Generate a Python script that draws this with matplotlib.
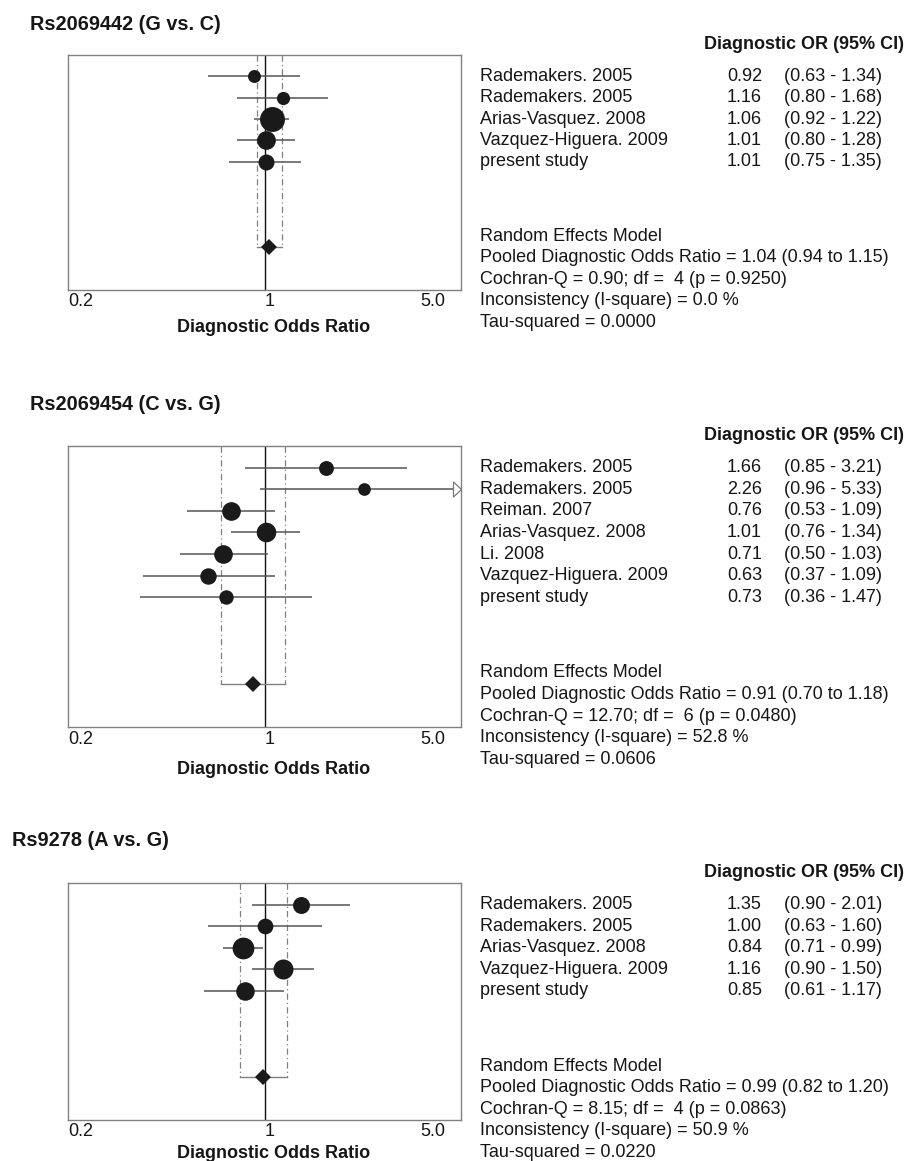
import numpy as np
import matplotlib
matplotlib.use("Agg")
import matplotlib.pyplot as plt
from matplotlib.path import Path
from matplotlib.ticker import NullLocator
from matplotlib.transforms import blended_transform_factory

plt.rcParams['font.family'] = ['Liberation Sans', 'DejaVu Sans']

# ---------------- data ----------------
title_1 = "Rs2069442 (G vs. C)"
studies_1 = ["Rademakers. 2005", "Rademakers. 2005", "Arias-Vasquez. 2008",
             "Vazquez-Higuera. 2009", "present study"]
or_1 = [0.92, 1.16, 1.06, 1.01, 1.01]
lo_1 = [0.63, 0.80, 0.92, 0.80, 0.75]
hi_1 = [1.34, 1.68, 1.22, 1.28, 1.35]
pooled_1 = [1.04, 0.94, 1.15]
q_1, df_1, p_1, isq_1, tau2_1 = 0.90, 4, 0.9250, 0.0, 0.0000

title_2 = "Rs2069454 (C vs. G)"
studies_2 = ["Rademakers. 2005", "Rademakers. 2005", "Reiman. 2007",
             "Arias-Vasquez. 2008", "Li. 2008", "Vazquez-Higuera. 2009",
             "present study"]
or_2 = [1.66, 2.26, 0.76, 1.01, 0.71, 0.63, 0.73]
lo_2 = [0.85, 0.96, 0.53, 0.76, 0.50, 0.37, 0.36]
hi_2 = [3.21, 5.33, 1.09, 1.34, 1.03, 1.09, 1.47]
pooled_2 = [0.91, 0.70, 1.18]
q_2, df_2, p_2, isq_2, tau2_2 = 12.70, 6, 0.0480, 52.8, 0.0606

title_3 = "Rs9278 (A vs. G)"
studies_3 = ["Rademakers. 2005", "Rademakers. 2005", "Arias-Vasquez. 2008",
             "Vazquez-Higuera. 2009", "present study"]
or_3 = [1.35, 1.00, 0.84, 1.16, 0.85]
lo_3 = [0.90, 0.63, 0.71, 0.90, 0.61]
hi_3 = [2.01, 1.60, 0.99, 1.50, 1.17]
pooled_3 = [0.99, 0.82, 1.20]
q_3, df_3, p_3, isq_3, tau2_3 = 8.15, 4, 0.0863, 50.9, 0.0220

x_ticks = [0.2, 1, 5.0]
x_tick_labels = ["0.2", "1", "5.0"]

# ---------------- layout (pixels) ----------------
W, H = 914, 1161
AX_L, AX_R = 68, 461
layout = [
    dict(top=55, bottom=290, tx=30, ty=25, ly=327),
    dict(top=446, bottom=727, tx=30, ty=405, ly=770),
    dict(top=883, bottom=1120, tx=12, ty=840, ly=1153),
]
panels = [
    (title_1, studies_1, or_1, lo_1, hi_1, pooled_1, q_1, df_1, p_1, isq_1, tau2_1),
    (title_2, studies_2, or_2, lo_2, hi_2, pooled_2, q_2, df_2, p_2, isq_2, tau2_2),
    (title_3, studies_3, or_3, lo_3, hi_3, pooled_3, q_3, df_3, p_3, isq_3, tau2_3),
]

TXT = '#161616'
DOT = '#1a1a1a'
CI_COL = '#555555'
BOX = '#808080'
DASH = '#808080'
FS = 13.0

fig = plt.figure(figsize=(W / 100, H / 100), dpi=100)
fig.patch.set_facecolor('white')

arrow_path = Path([(-1.0, -0.94), (0.0, 0.0), (-1.0, 0.94), (-1.0, -0.94)],
                  [Path.MOVETO, Path.LINETO, Path.LINETO, Path.CLOSEPOLY])

for (title, studies, ors, los, his, pooled, q, dfree, pval, isq, tau2), L in zip(panels, layout):
    ors = np.array(ors); los = np.array(los); his = np.array(his)
    n = len(ors)
    ax = fig.add_axes([AX_L / W, 1 - L['bottom'] / H,
                       (AX_R - AX_L) / W, (L['bottom'] - L['top']) / H])
    ax.set_xscale('log')
    xmin, xmax = x_ticks[0], x_ticks[-1]
    ax.set_xlim(xmin, xmax)
    ax.set_ylim(n + 6, 0)
    ax.set_xticks([])
    ax.xaxis.set_minor_locator(NullLocator())
    ax.set_yticks([])
    for s in ax.spines.values():
        s.set_color(BOX)
        s.set_linewidth(1.0)

    ax.axvline(1.0, color='#111111', lw=1.0, zorder=1)

    # weights (random effects, from CI widths) -> marker size
    se = (np.log(his) - np.log(los)) / (2 * 1.96)
    w = 1.0 / (se ** 2 + tau2)
    pct = 100 * w / w.sum()
    diam_px = 12.9 + 6.1 * (np.log(pct) - 2.0)

    ys = np.arange(1, n + 1)
    for i in range(n):
        ax.plot([los[i], min(his[i], xmax)], [ys[i], ys[i]], color=CI_COL,
                lw=1.1, zorder=2, solid_capstyle='butt')
        if his[i] > xmax:
            ax.plot([xmax], [ys[i]], marker=arrow_path, ms=11.5, mfc='white',
                    mec='#7a7a7a', mew=0.9, clip_on=False, zorder=5)
        ax.plot([ors[i]], [ys[i]], 'o', ms=diam_px[i] * 0.72, color=DOT,
                mew=0, zorder=3)

    pe, plo, phi = pooled
    yd = n + 4
    for xv in (plo, phi):
        ax.plot([xv, xv], [0, yd], color=DASH, lw=0.9, ls=(0, (5, 2.5, 1, 2.5)),
                zorder=1)
    ax.plot([plo, phi], [yd, yd], color=DASH, lw=1.0, zorder=1)
    ax.plot([pe], [yd], 'D', ms=8.2, color=DOT, mew=0, zorder=4)

    # tick labels
    yb = 1 - (L['bottom'] + 12) / H
    tr_x = blended_transform_factory(ax.transData, fig.transFigure)
    fig.text(AX_L / W, yb, x_tick_labels[0], ha='left', va='center',
             fontsize=FS, color=TXT)
    ax.text(x_ticks[1], yb, x_tick_labels[1], transform=tr_x, ha='left',
            va='center', fontsize=FS, color=TXT)
    fig.text(445 / W, yb, x_tick_labels[2], ha='right', va='center',
             fontsize=FS, color=TXT)
    fig.text(274 / W, 1 - L['ly'] / H, "Diagnostic Odds Ratio", ha='center',
             va='center', fontsize=13, fontweight='bold', color=TXT)

    fig.text(L['tx'] / W, 1 - L['ty'] / H, title, ha='left', va='center',
             fontsize=14.3, fontweight='bold', color=TXT)

    # right-hand table
    tr = blended_transform_factory(fig.transFigure, ax.transData)
    ax.text(704 / W, -0.5, "Diagnostic OR (95% CI)", transform=tr, ha='left',
            va='center', fontsize=13, fontweight='bold', color=TXT, clip_on=False)
    for i in range(n):
        ax.text(480 / W, ys[i], studies[i], transform=tr, ha='left', va='center',
                fontsize=FS, color=TXT)
        ax.text(762 / W, ys[i], f"{ors[i]:.2f}", transform=tr, ha='right',
                va='center', fontsize=FS, color=TXT)
        ax.text(784 / W, ys[i], f"({los[i]:.2f} - {his[i]:.2f})", transform=tr,
                ha='left', va='center', fontsize=FS, color=TXT)
    stats = [
        "Random Effects Model",
        f"Pooled Diagnostic Odds Ratio = {pe:.2f} ({plo:.2f} to {phi:.2f})",
        f"Cochran-Q = {q:.2f}; df = {dfree:2d} (p = {pval:.4f})",
        f"Inconsistency (I-square) = {isq:.1f} %",
        f"Tau-squared = {tau2:.4f}",
    ]
    for k, s in enumerate(stats):
        ax.text(480 / W, n + 3.5 + k, s, transform=tr, ha='left', va='center',
                fontsize=FS, color=TXT)

fig.savefig("out.png", dpi=100, facecolor='white')
